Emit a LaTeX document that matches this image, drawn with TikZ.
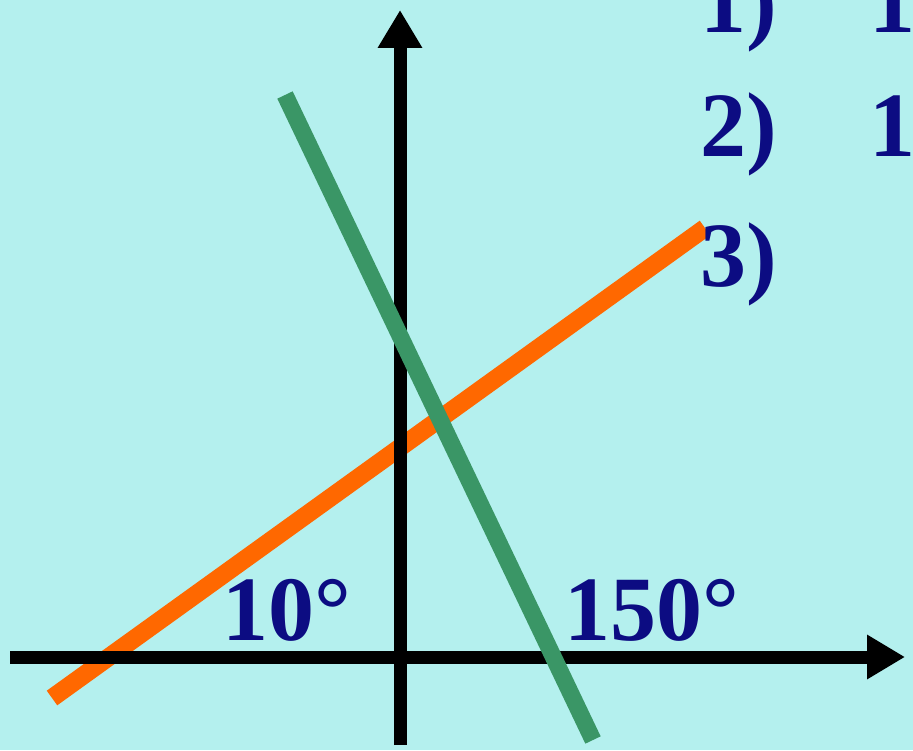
\documentclass[tikz,border=0pt]{standalone}
\usepackage{fontspec}
\setmainfont{Liberation Serif}
\usetikzlibrary{arrows.meta}
\definecolor{bg}{RGB}{180,240,238}
\definecolor{navy}{RGB}{12,12,130}
\definecolor{orng}{RGB}{255,104,0}
\definecolor{grn}{RGB}{58,150,102}
\begin{document}
\begin{tikzpicture}[x=1pt,y=1pt,
  axis/.style={line width=13pt,-{Triangle[length=38pt,width=42pt]}},
  lineA/.style={line width=18pt,orng},
  lineB/.style={line width=17pt,grn},
  lbl/.style={text=navy,font=\fontsize{92}{100}\selectfont\bfseries,inner sep=0pt,anchor=base west}]
\fill[bg] (0,0) rectangle (913,750);
\useasboundingbox (0,0) rectangle (913,750);
\coordinate (xs) at (10,93);
\coordinate (xe) at (905,93);
\coordinate (ys) at (400,5);
\coordinate (ye) at (400,740);
\coordinate (oa) at (52,52);
\coordinate (ob) at (705,522);
\coordinate (ga) at (285,655);
\coordinate (gb) at (593,10);
\draw[lineA] (oa) -- (ob);
\draw[axis] (xs) -- (xe);
\draw[axis] (ys) -- (ye);
\draw[lineB] (ga) -- (gb);
\node[lbl] (t10) at (222,110) {10°};
\node[lbl] (t150) at (564,110) {150°};
\node[lbl] (n1) at (700,717) {1)};
\node[lbl] (v1) at (869,717) {1};
\node[lbl] (n2) at (700,593) {2)};
\node[lbl] (v2) at (869,593) {1};
\node[lbl] (n3) at (700,463) {3)};
\end{tikzpicture}
\end{document}
